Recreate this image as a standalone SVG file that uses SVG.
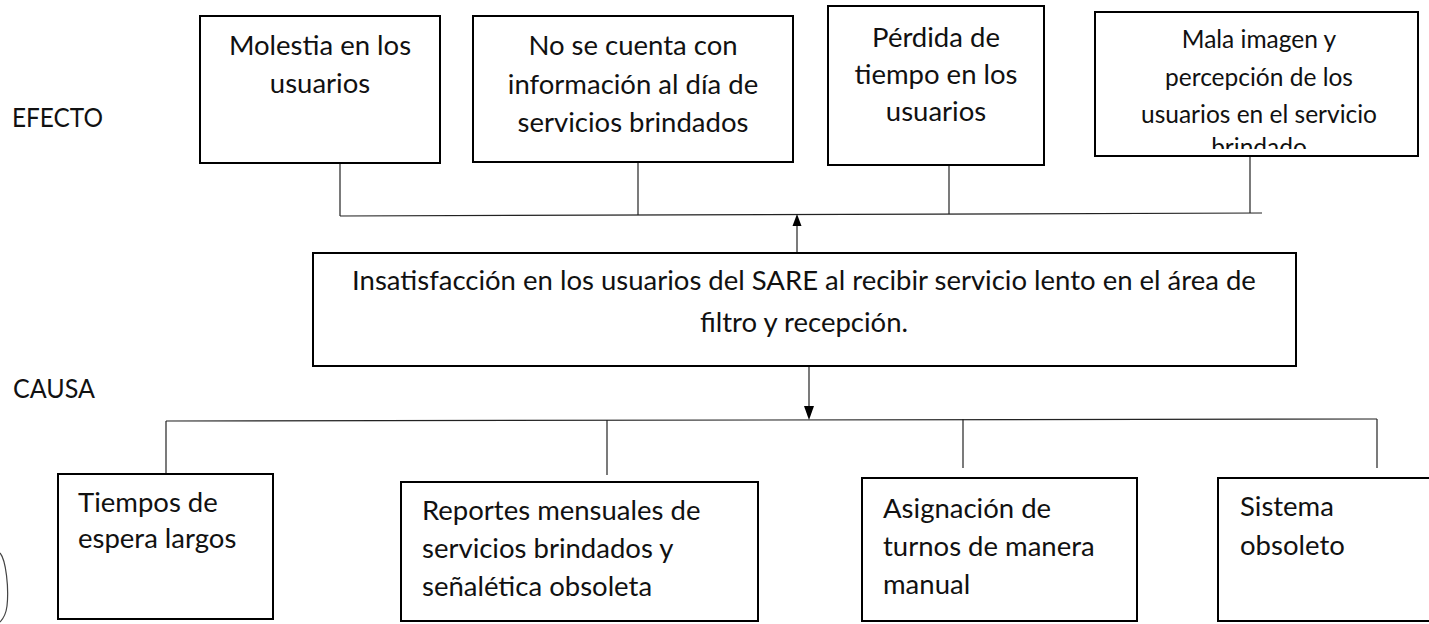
<svg xmlns="http://www.w3.org/2000/svg" width="1429" height="624" viewBox="0 0 1429 624">
<style>
.box{fill:#fff;stroke:#000;stroke-width:2}
.t{font-family:Lato,"Liberation Sans",sans-serif;font-size:27.5px;fill:#111}
.m{text-anchor:middle}
.s{font-size:24.5px}
.c{stroke:#222;stroke-width:1.2;fill:none}
.ah{fill:#000}
</style>
<defs>
<clipPath id="clip4"><rect x="1095" y="12" width="323" height="137"/></clipPath>
</defs>
<rect width="1429" height="624" fill="#fff"/>

<g id="label-efecto"><text class="t" x="12" y="127" textLength="91" lengthAdjust="spacingAndGlyphs">EFECTO</text></g>
<g id="label-causa"><text class="t" x="13" y="398" textLength="82" lengthAdjust="spacingAndGlyphs">CAUSA</text></g>

<g id="connectors">
  <line class="c" x1="340" y1="163" x2="340" y2="216"/>
  <line class="c" x1="638" y1="162" x2="638" y2="215"/>
  <line class="c" x1="949" y1="165" x2="949" y2="214"/>
  <line class="c" x1="1250" y1="156" x2="1250" y2="213"/>
  <line class="c" x1="340" y1="216" x2="1262" y2="213" stroke-width="1.6"/>
  <line class="c" x1="797" y1="253" x2="797" y2="224" stroke-width="1.6"/>
  <polygon class="ah" points="797,214 792.5,226 801.5,226"/>
  <line class="c" x1="809" y1="366" x2="809" y2="407" stroke-width="1.6"/>
  <polygon class="ah" points="809,420 804,406 814,406"/>
  <line class="c" x1="166" y1="421" x2="1377" y2="419" stroke-width="1.4"/>
  <line class="c" x1="166" y1="421" x2="166" y2="474"/>
  <line class="c" x1="607" y1="420" x2="607" y2="475"/>
  <line class="c" x1="963" y1="419" x2="963" y2="468"/>
  <line class="c" x1="1377" y1="419" x2="1377" y2="468"/>
</g>

<g id="efecto-1">
  <rect class="box" x="200" y="16" width="240" height="147"/>
  <text class="t m" x="320" y="55">Molestia en los</text>
  <text class="t m" x="320" y="93">usuarios</text>
</g>
<g id="efecto-2">
  <rect class="box" x="473" y="16" width="320" height="146"/>
  <text class="t m" x="633" y="55">No se cuenta con</text>
  <text class="t m" x="633" y="94">información al día de</text>
  <text class="t m" x="633" y="132">servicios brindados</text>
</g>
<g id="efecto-3">
  <rect class="box" x="828" y="6" width="216" height="159"/>
  <text class="t m" x="936" y="47">Pérdida de</text>
  <text class="t m" x="936" y="84">tiempo en los</text>
  <text class="t m" x="936" y="121">usuarios</text>
</g>
<g id="efecto-4">
  <rect class="box" x="1095" y="12" width="323" height="144"/>
  <g clip-path="url(#clip4)">
    <text class="t s m" x="1259" y="48">Mala imagen y</text>
    <text class="t s m" x="1259" y="86">percepción de los</text>
    <text class="t s m" x="1259" y="123">usuarios en el servicio</text>
    <text class="t s m" x="1259" y="156">brindado</text>
  </g>
</g>

<g id="problema">
  <rect class="box" x="313" y="253" width="983" height="113"/>
  <text class="t m" x="804" y="290">Insatisfacción en los usuarios del SARE al recibir servicio lento en el área de</text>
  <text class="t m" x="804" y="332">filtro y recepción.</text>
</g>

<g id="causa-1">
  <rect class="box" x="58" y="474" width="215" height="145"/>
  <text class="t" x="78" y="512">Tiempos de</text>
  <text class="t" x="78" y="548">espera largos</text>
</g>
<g id="causa-2">
  <rect class="box" x="401" y="482" width="357" height="139"/>
  <text class="t" x="422" y="520">Reportes mensuales de</text>
  <text class="t" x="422" y="558">servicios brindados y</text>
  <text class="t" x="422" y="596">señalética obsoleta</text>
</g>
<g id="causa-3">
  <rect class="box" x="862" y="478" width="275" height="143"/>
  <text class="t" x="883" y="518">Asignación de</text>
  <text class="t" x="883" y="556">turnos de manera</text>
  <text class="t" x="883" y="594">manual</text>
</g>
<g id="causa-4">
  <rect class="box" x="1218" y="478" width="240" height="143"/>
  <text class="t" x="1240" y="516">Sistema</text>
  <text class="t" x="1240" y="555">obsoleto</text>
</g>

<path d="M0 553 C6 560 9 588 7 606 C6 614 3 619 0 622" fill="none" stroke="#444" stroke-width="1.2"/>
</svg>
